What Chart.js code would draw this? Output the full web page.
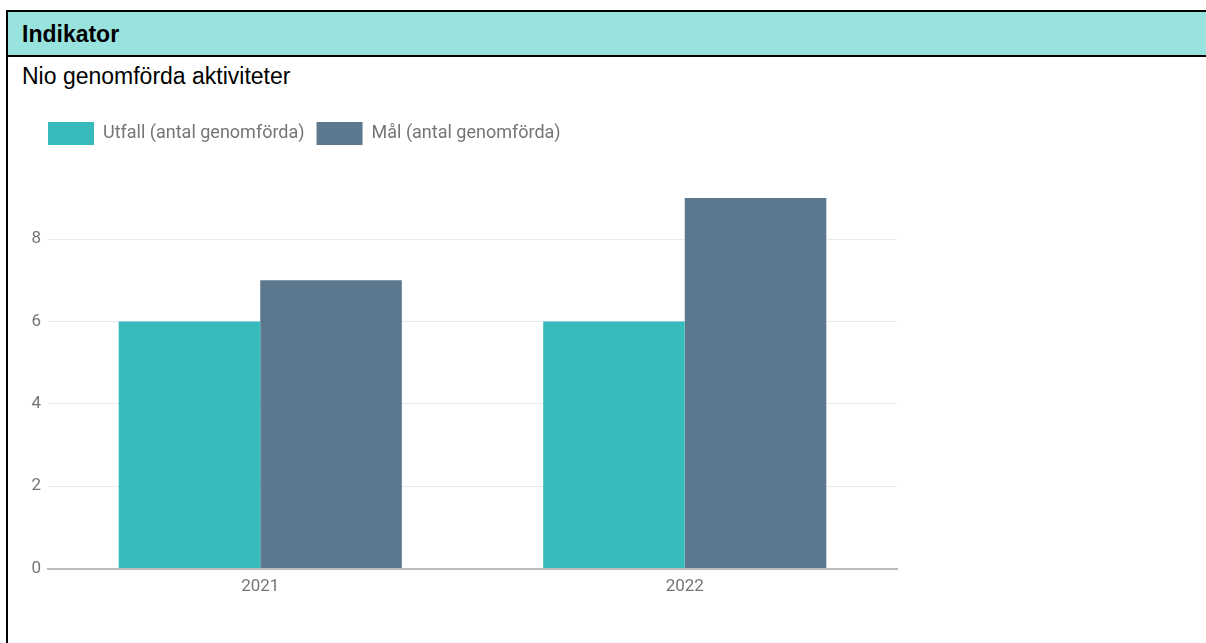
<!DOCTYPE html>
<html>
<head>
<meta charset="utf-8">
<script src="https://cdn.jsdelivr.net/npm/chart.js@4"></script>
<style>
  body { margin: 0; background: #fff; overflow: hidden; }
  .frame {
    position: absolute; left: 6px; top: 10px; width: 1300px; height: 700px;
    border-top: 2px solid #000; border-left: 2px solid #000;
  }
  .header {
    position: absolute; left: 0; top: 0; width: 100%; height: 43px;
    background: #99e3df; border-bottom: 2px solid #000;
  }
  .txt { position: absolute; font-family: "Liberation Sans", Arial, sans-serif; font-size: 23px; line-height: 23px; color: #000; white-space: nowrap; }
  #chartBox { position: absolute; left: 18px; top: 100px; width: 892px; height: 520px; }
</style>
</head>
<body>
<div class="frame">
  <div class="header"></div>
</div>
<div class="txt" style="left:22px; top:23px; font-weight:bold;">Indikator</div>
<div class="txt" style="left:22px; top:65px;">Nio genomförda aktiviteter</div>
<div id="chartBox"><canvas id="chart"></canvas></div>

<script>
// data
const years = ['2021', '2022'];
const utfall = [6, 6];
const mal = [7, 9];
const seriesNames = ['Utfall (antal genomförda)', 'Mål (antal genomförda)'];
const yMax = 9;

// legenden: luft under, och i linje med plottytan
const legendTweak = {
    id: 'legendTweak',
    beforeInit(chart) {
        const origFit = chart.legend.fit;
        chart.legend.fit = function () {
            origFit.bind(chart.legend)();
            this.height += 43;
        };
    },
    afterLayout(chart) {
        chart.legend.left += 18;
    }
};

const ctx = document.getElementById('chart').getContext('2d');
new Chart(ctx, {
    type: 'bar',
    data: {
        labels: years,
        datasets: [{
            label: seriesNames[0],
            data: utfall,
            backgroundColor: '#37bbbc',
            borderWidth: 0
        }, {
            label: seriesNames[1],
            data: mal,
            backgroundColor: '#5b788f',
            borderWidth: 0
        }]
    },
    options: {
        responsive: true,
        maintainAspectRatio: false,
        animation: false,
        datasets: { bar: { categoryPercentage: 0.667, barPercentage: 1 } },
        layout: { padding: { left: 0, right: 13, top: 10, bottom: 15 } },
        scales: {
            x: {
                grid: { display: false, drawTicks: false },
                border: { display: true, color: '#bdbdbd', width: 2 },
                ticks: { color: '#757575', padding: 8, font: { family: 'Roboto', size: 17 } }
            },
            y: {
                min: 0,
                max: yMax,
                afterFit(scale) { scale.width = 30; },
                grid: { color: '#e8ebee', lineWidth: 1, drawTicks: false },
                border: { display: false },
                ticks: { stepSize: 2, includeBounds: false, color: '#757575', padding: 7, font: { family: 'Roboto', size: 17 } }
            }
        },
        plugins: {
            legend: {
                position: 'top',
                align: 'start',
                labels: {
                    boxWidth: 46,
                    boxHeight: 23,
                    padding: 12,
                    color: '#757575',
                    font: { family: 'Roboto', size: 18 }
                }
            },
            tooltip: { enabled: false }
        }
    },
    plugins: [legendTweak]
});
</script>
</body>
</html>
